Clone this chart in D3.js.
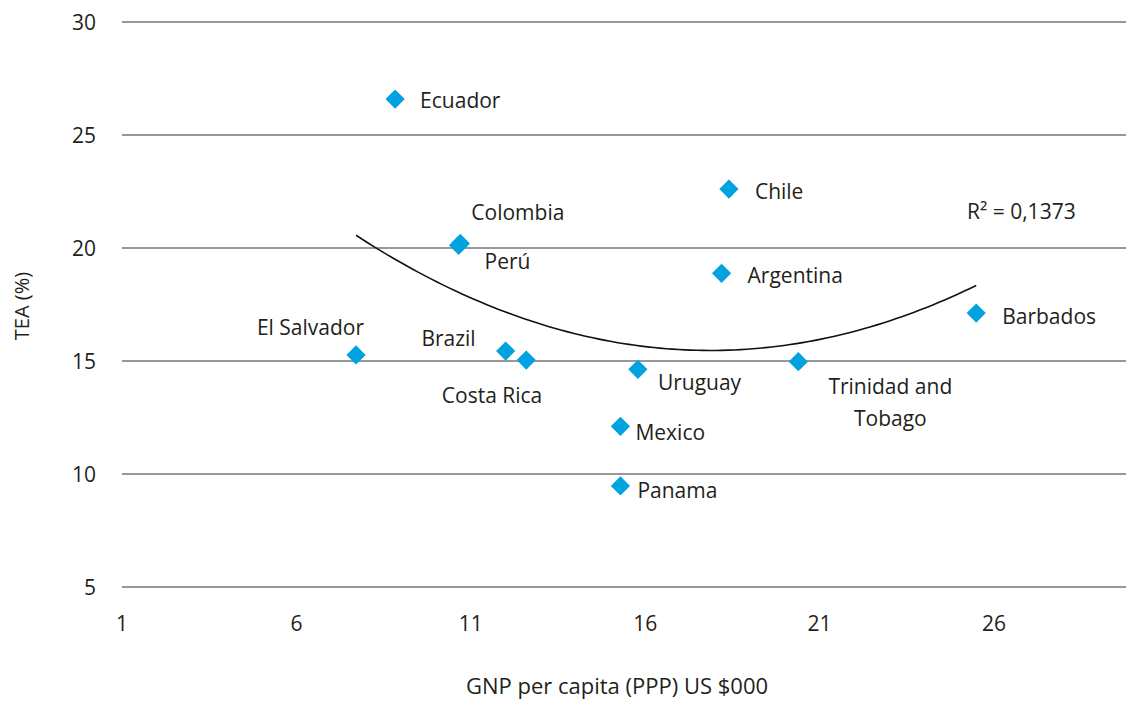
<!DOCTYPE html>
<meta charset="utf-8" />
<style>
  body {
    margin: 0;
    background: #fff;
  }
  svg text {
    font-family: "Open Sans", Lato, sans-serif;
    fill: #231f20;
  }
  .grid line {
    stroke: #333;
    stroke-width: 1.2px;
  }
</style>
<svg width="1126" height="702"></svg>

<script src="https://d3js.org/d3.v7.min.js"></script>
<script>
  /* global d3 */

  // GNP per capita (PPP, US $000) vs TEA (%)
  var countries = ["Ecuador", "Chile", "Colombia", "Perú", "Argentina", "Barbados", "Trinidad and Tobago",
    "El Salvador", "Brazil", "Costa Rica", "Uruguay", "Mexico", "Panama"];
  var gnp = [8.83, 18.4, 10.7, 10.65, 18.19, 25.49, 20.39, 7.71, 12.0, 12.59, 15.79, 15.29, 15.29];
  var tea = [26.59, 22.61, 20.2, 20.12, 18.88, 17.12, 14.97, 15.27, 15.44, 15.04, 14.63, 12.11, 9.47];

  var xTicks = [1, 6, 11, 16, 21, 26];
  var yTicks = [5, 10, 15, 20, 25, 30];
  var r2Label = "R² = 0,1373";

  // label placement: [dx, dy, anchor] from the marker
  var labelOffsets = {
    "Ecuador": [25, 1, "start"],
    "Chile": [26, 2, "start"],
    "Colombia": [11, -31, "start"],
    "Perú": [26, 16, "start"],
    "Argentina": [26, 2, "start"],
    "Barbados": [26, 3, "start"],
    "El Salvador": [8, -27, "end"],
    "Brazil": [-30, -13, "end"],
    "Costa Rica": [16, 35, "end"],
    "Uruguay": [20, 13, "start"],
    "Mexico": [15, 6, "start"],
    "Panama": [17, 4, "start"]
  };

  var svg = d3.select("svg"),
    width = +svg.attr("width");

  var x = d3.scaleLinear().domain([1, 26]).range([122, 994]);
  var y = d3.scaleLinear().domain([5, 30]).range([587, 22]);

  var points = countries.map(function (c, i) {
    return { name: c, x: gnp[i], y: tea[i] };
  });

  // horizontal gridlines
  svg.append("g")
    .attr("class", "grid")
    .selectAll("line")
    .data(yTicks)
    .join("line")
    .attr("x1", x(1))
    .attr("x2", width)
    .attr("y1", function (d) { return y(d); })
    .attr("y2", function (d) { return y(d); });

  // y tick labels
  svg.append("g")
    .selectAll("text")
    .data(yTicks)
    .join("text")
    .attr("x", 96)
    .attr("y", function (d) { return y(d); })
    .attr("dy", "0.36em")
    .attr("text-anchor", "end")
    .style("font-size", "21px")
    .text(function (d) { return d; });

  // x tick labels
  svg.append("g")
    .selectAll("text")
    .data(xTicks)
    .join("text")
    .attr("x", function (d) { return x(d); })
    .attr("y", 623)
    .attr("dy", "0.36em")
    .attr("text-anchor", "middle")
    .style("font-size", "21px")
    .text(function (d) { return d; });

  svg.append("text")
    .attr("transform", "translate(22,306) rotate(-90)")
    .attr("dy", "0.36em")
    .attr("text-anchor", "middle")
    .style("font-size", "20px")
    .text("TEA (%)");

  svg.append("text")
    .attr("x", 617)
    .attr("y", 686)
    .attr("dy", "0.36em")
    .attr("text-anchor", "middle")
    .style("font-size", "22px")
    .text("GNP per capita (PPP) US $000");

  // quadratic least squares fit
  function polyFit(xs, ys) {
    var s = [0, 0, 0, 0, 0], t = [0, 0, 0];
    xs.forEach(function (xv, i) {
      for (var k = 0; k < 5; k++) s[k] += Math.pow(xv, k);
      for (var j = 0; j < 3; j++) t[j] += ys[i] * Math.pow(xv, j);
    });
    var m = [
      [s[0], s[1], s[2], t[0]],
      [s[1], s[2], s[3], t[1]],
      [s[2], s[3], s[4], t[2]]
    ];
    for (var c = 0; c < 3; c++) {
      for (var r = c + 1; r < 3; r++) {
        var f = m[r][c] / m[c][c];
        for (var k2 = c; k2 < 4; k2++) m[r][k2] -= f * m[c][k2];
      }
    }
    var b = [0, 0, 0];
    for (var r2 = 2; r2 >= 0; r2--) {
      var v = m[r2][3];
      for (var c2 = r2 + 1; c2 < 3; c2++) v -= m[r2][c2] * b[c2];
      b[r2] = v / m[r2][r2];
    }
    return b;
  }

  var coef = polyFit(gnp, tea);
  var xMin = d3.min(gnp), xMax = d3.max(gnp);
  var curve = d3.range(0, 101).map(function (i) {
    var xv = xMin + (xMax - xMin) * i / 100;
    return [xv, coef[0] + coef[1] * xv + coef[2] * xv * xv];
  });

  svg.append("path")
    .datum(curve)
    .attr("fill", "none")
    .attr("stroke", "#111")
    .attr("stroke-width", 1.6)
    .attr("d", d3.line()
      .x(function (d) { return x(d[0]); })
      .y(function (d) { return y(d[1]); }));

  // markers
  var diamond = d3.symbol().type(d3.symbolSquare).size(185);
  svg.append("g")
    .selectAll("path")
    .data(points)
    .join("path")
    .attr("d", diamond)
    .attr("fill", "#00a3e0")
    .attr("transform", function (d) {
      return "translate(" + x(d.x) + "," + y(d.y) + ") rotate(45)";
    });

  // labels
  var labels = svg.append("g").style("font-size", "21px");
  points.forEach(function (d) {
    var px = x(d.x), py = y(d.y);
    if (d.name === "Trinidad and Tobago") {
      var t = labels.append("text")
        .attr("text-anchor", "middle")
        .attr("x", px + 92)
        .attr("y", py + 25)
        .attr("dy", "0.36em");
      t.append("tspan").attr("x", px + 92).text("Trinidad and");
      t.append("tspan").attr("x", px + 92).attr("dy", "1.5em").text("Tobago");
      return;
    }
    var off = labelOffsets[d.name];
    labels.append("text")
      .attr("x", px + off[0])
      .attr("y", py + off[1])
      .attr("dy", "0.36em")
      .attr("text-anchor", off[2])
      .text(d.name);
  });

  labels.append("text")
    .attr("x", 967)
    .attr("y", 211)
    .attr("dy", "0.36em")
    .text(r2Label);
</script>
